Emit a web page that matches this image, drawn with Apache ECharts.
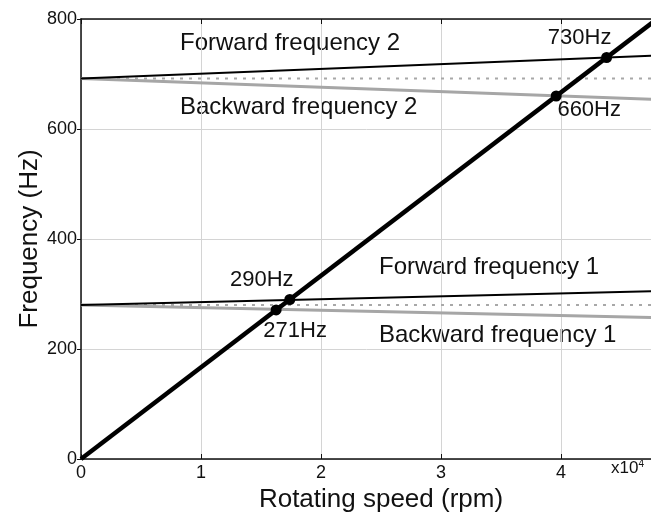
<!DOCTYPE html>
<html>
<head>
<meta charset="utf-8">
<script src="https://cdn.jsdelivr.net/npm/echarts@6/dist/echarts.min.js"></script>
<style>
  html, body { margin: 0; padding: 0; background: #fff; }
  #chart-container { width: 651px; height: 513px; }
</style>
</head>
<body>
<div id="chart-container"></div>
<script>
// rotating speed in x10^4 rpm, frequency in Hz
const speedLine = [[0, 0], [4.8, 800]];
const forward1 = [[0, 280], [5, 306.5]];
const backward1 = [[0, 280], [5, 256]];
const static1 = [[0, 280], [5, 280]];
const forward2 = [[0, 692], [5, 735.5]];
const backward2 = [[0, 692], [5, 652]];
const static2 = [[0, 692], [5, 692]];

// critical speeds (crossings of speed line with the frequency curves)
const crossings = [[1.626, 271], [1.74, 290], [3.96, 660], [4.38, 730]];
const crossLabelOffsets = [[19, 21], [-28, -20], [33, 14], [-27, -20]];

const curveNames = ['Forward frequency 2', 'Backward frequency 2', 'Forward frequency 1', 'Backward frequency 1'];

var FONT = 'Liberation Sans, Arial, sans-serif';

var dom = document.getElementById('chart-container');
var myChart = echarts.init(dom, null, { renderer: 'canvas' });

function lineSeries(data, color, width, type, z)
{
   return {
      type: 'line',
      data: data,
      symbol: 'none',
      silent: true,
      z: z,
      lineStyle: { color: color, width: width, type: type }
   };
}

var option =
{
   animation: false,
   grid: { left: 81, top: 19, width: 600, height: 440, outerBoundsMode: 'none', containLabel: false },
   xAxis:
   [
      {
         type: 'value', min: 0, max: 5, interval: 1,
         name: 'Rotating speed (rpm)',
         nameLocation: 'middle', nameGap: 27,
         nameTextStyle: { fontFamily: FONT, fontSize: 26, color: '#111' },
         axisLine: { lineStyle: { color: '#111', width: 1.5 } },
         axisTick: { inside: true, length: 5, lineStyle: { color: '#111' } },
         axisLabel: { fontFamily: FONT, fontSize: 18, color: '#111', margin: 5, showMaxLabel: false },
         splitLine: { show: true, lineStyle: { color: '#d4d4d4', width: 1 } }
      },
      {
         type: 'value', min: 0, max: 5, interval: 1, position: 'top',
         axisLine: { show: true, onZero: false, lineStyle: { color: '#111', width: 1.5 } },
         axisTick: { inside: true, length: 5, lineStyle: { color: '#111' } },
         axisLabel: { show: false },
         splitLine: { show: false }
      }
   ],
   yAxis:
   {
      type: 'value', min: 0, max: 800, interval: 200,
      name: 'Frequency (Hz)',
      nameLocation: 'middle', nameGap: 38, nameMoveOverlap: false,
      nameTextStyle: { fontFamily: FONT, fontSize: 26, color: '#111' },
      axisLine: { show: true, lineStyle: { color: '#111', width: 1.5 } },
      axisTick: { show: true, inside: false, length: 4, lineStyle: { color: '#111' } },
      axisLabel: { fontFamily: FONT, fontSize: 18, color: '#111', margin: 4 },
      splitLine: { show: true, lineStyle: { color: '#d4d4d4', width: 1 } }
   },
   series:
   [
      lineSeries(static1, '#a8a8a8', 2, [3, 6], 2),
      lineSeries(static2, '#a8a8a8', 2, [3, 6], 2),
      lineSeries(backward1, '#a6a6a6', 3, 'solid', 3),
      lineSeries(backward2, '#a6a6a6', 3, 'solid', 3),
      lineSeries(forward1, '#000', 2, 'solid', 4),
      lineSeries(forward2, '#000', 2, 'solid', 4),
      lineSeries(speedLine, '#000', 4.5, 'solid', 5),
      {
         type: 'scatter',
         z: 6,
         symbolSize: 11,
         itemStyle: { color: '#000', opacity: 1 },
         data: crossings.map((c, i) => ({
            value: c,
            label:
            {
               show: true,
               position: 'inside',
               offset: crossLabelOffsets[i],
               formatter: Math.round(c[1]) + 'Hz',
               fontFamily: FONT, fontSize: 22, color: '#111',
               textBorderWidth: 0
            }
         }))
      }
   ],
   graphic:
   [
      { type: 'text', left: 180, top: 31, style: { text: curveNames[0], font: '24px ' + FONT, fill: '#111' } },
      { type: 'text', left: 180, top: 95, style: { text: curveNames[1], font: '24px ' + FONT, fill: '#111' } },
      { type: 'text', left: 379, top: 255, style: { text: curveNames[2], font: '24px ' + FONT, fill: '#111' } },
      { type: 'text', left: 379, top: 323, style: { text: curveNames[3], font: '24px ' + FONT, fill: '#111' } },
      {
         type: 'text', left: 611, top: 459,
         style:
         {
            text: '{a|x10}{b|4}',
            rich:
            {
               a: { fontFamily: FONT, fontSize: 17, fill: '#111', verticalAlign: 'bottom' },
               b: { fontFamily: FONT, fontSize: 10, fill: '#111', verticalAlign: 'top', padding: [0, 0, 8, 0] }
            }
         }
      }
   ]
};

myChart.setOption(option);
window.addEventListener('resize', myChart.resize);
</script>
</body>
</html>
